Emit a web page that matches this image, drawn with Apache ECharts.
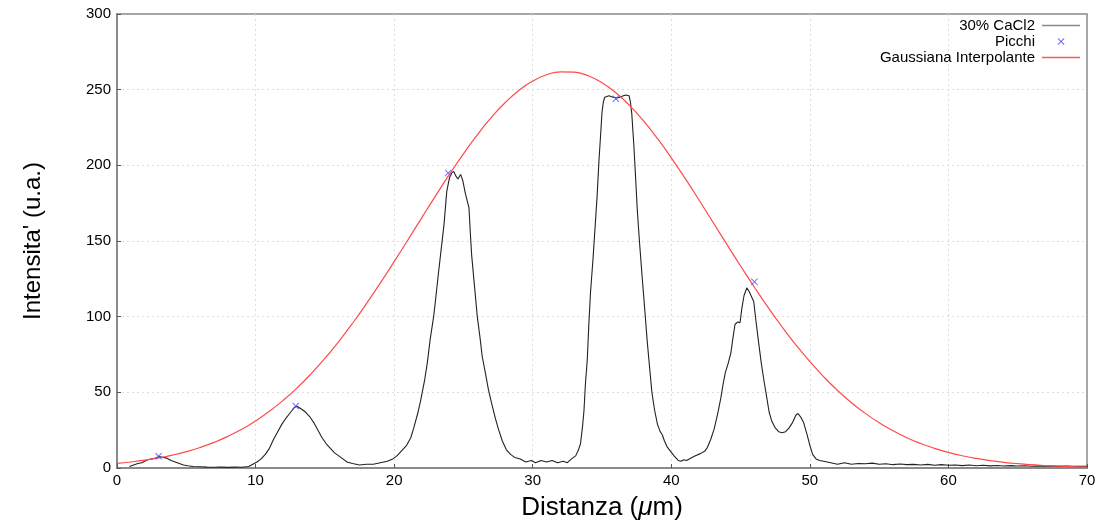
<!DOCTYPE html>
<html>
<head>
<meta charset="utf-8">
<script src="https://cdn.jsdelivr.net/npm/echarts@6/dist/echarts.min.js"></script>
<style>html,body{margin:0;padding:0;background:#fff;}#c{width:1099px;height:526px;}</style>
</head>
<body>
<div id="c"></div>
<script>
// Measured profile: x (µm) and intensity
var profileX = [0.9,1.2,1.5,1.8,2.0,2.2,2.5,2.8,3.0,3.3,3.6,3.9,4.2,4.5,4.8,5.1,5.5,6.0,6.5,7.0,7.5,8.0,8.5,9.0,9.5,9.8,10.1,10.4,10.7,11.0,11.3,11.6,11.9,12.2,12.5,12.8,13.0,13.3,13.6,13.9,14.2,14.5,14.8,15.1,15.4,15.7,16.0,16.3,16.6,17.0,17.5,18.0,18.5,19.0,19.5,19.9,20.2,20.5,20.9,21.2,21.4,21.7,21.9,22.2,22.4,22.6,22.85,23.0,23.2,23.4,23.6,23.8,24.0,24.15,24.3,24.45,24.6,24.8,24.95,25.15,25.4,25.5,25.6,25.8,26.0,26.2,26.35,26.6,26.8,27.0,27.3,27.55,27.8,28.1,28.4,28.7,29.1,29.5,29.9,30.2,30.6,31.0,31.4,31.8,32.2,32.5,32.8,33.1,33.3,33.45,33.6,33.7,33.8,33.94,34.05,34.17,34.35,34.5,34.65,34.78,34.9,35.0,35.1,35.2,35.5,35.8,36.1,36.4,36.7,36.95,37.05,37.15,37.3,37.4,37.55,37.7,37.9,38.1,38.27,38.45,38.6,38.8,39.0,39.2,39.35,39.5,39.7,39.95,40.2,40.5,40.7,40.9,41.1,41.4,41.7,42.1,42.4,42.6,42.85,43.1,43.35,43.57,43.75,43.9,44.1,44.3,44.45,44.6,44.8,44.96,45.1,45.25,45.45,45.6,45.75,45.95,46.1,46.3,46.5,46.7,46.9,47.06,47.25,47.5,47.75,48.0,48.25,48.5,48.75,49.0,49.15,49.35,49.55,49.8,50.0,50.2,50.45,50.7,51.0,51.5,52.0,52.5,53.0,53.5,54.0,54.5,55.0,55.5,56.0,56.5,57.0,57.5,58.0,58.5,59.0,59.5,60.0,60.5,61.0,61.5,62.0,62.5,63.0,63.5,64.0,64.5,65.0,65.5,66.0,66.5,67.0,67.5,68.0,68.5,69.0,69.5,70.0];
var profileY = [1,2,3,3.5,4.5,5.5,6,6.5,7.5,7,6.5,5,4,3,2,1.5,1,0.8,0.6,0.5,0.6,0.4,0.6,0.5,1,2.5,4,6,9,13,19,24,29,33,36.5,40,40.8,39,37,34,30,25,20,16,13,10,8,6,4,3,2,2.5,2.5,3.5,4.5,6,8,11,15,20,26,36,44,58,70,85,100,112,129,145,161,183,192,195,196,193,191,194,190,181,172,155,140,120,100,86,74,62,52,44,33,25,18,12,9,7,6,4,5,3.5,5,4,5,3.5,4.5,3.5,6,8,12,16,28,38,55,72,95,116,138,159,180,203,220,235,242,245,246,245,244.5,245.5,246.5,246,242,234,213,196,170,150,126,103,83,65,50,38,29,24,22,18,14,11,8,5,4.5,5.5,5,6.5,8,9.5,11,13.5,19,26,36,46,56,63,69,76,86,95,96.5,96,106,114,119,117,114,110,98,83,69,57,46,37,31,26.5,24,23.3,24,26.5,30,35,36,33.5,30,22,15,9,6,5,4.5,3.5,2.5,3.5,2.5,3,2.8,3.2,2.5,2.8,2.2,2.6,2.2,2.4,2,2.4,1.8,2.2,1.8,2,1.6,2,1.5,1.8,1.4,1.7,1.3,1.6,1.3,1.5,1.2,1.4,1.2,1.3,1.1,1.3,1.2,1.1,1.2];
// Detected peaks
var peakX = [3.0, 12.9, 23.9, 36.0, 46.0];
var peakY = [7.8, 41, 195, 244, 123];
var gaussX = [0,1,2,3,4,5,6,7,8,9,10,11,12,13,14,15,16,17,18,19,20,21,22,23,24,25,26,27,28,29,30,31,32,33,34,35,36,37,38,39,40,41,42,43,44,45,46,47,48,49,50,51,52,53,54,55,56,57,58,59,60,61,62,63,64,65,66,67,68,69,70];
var gaussY = [3.03,3.98,5.17,6.66,8.52,10.79,13.56,16.9,20.89,25.59,31.08,37.44,44.72,52.96,62.18,72.4,83.58,95.66,108.58,122.18,136.34,150.84,165.48,180.0,194.14,207.62,220.16,231.47,241.32,249.45,255.66,259.83,261.82,261.6,259.17,254.58,247.96,239.48,229.32,217.75,204.98,191.35,177.12,162.56,147.93,133.48,119.42,105.93,93.18,81.26,70.27,60.26,51.23,43.2,36.1,29.92,24.6,20.04,16.19,12.97,10.3,8.11,6.34,4.91,3.77,2.87,2.17,1.62,1.2,0.88,0.65];
var seriesNames = ['30% CaCl2', 'Picchi', 'Gaussiana Interpolante'];
var yTitle = "Intensita' (u.a.)";

function zip(a, b) { return a.map(function (v, i) { return [v, b[i]]; }); }
var xIcon = 'path://M0,1L1,0L5,4L9,0L10,1L6,5L10,9L9,10L5,6L1,10L0,9L4,5Z';
var lineIcon = 'path://M0,0L38,0L38,1.5L0,1.5Z';
var font = "'Liberation Sans', Arial, Helvetica, sans-serif";

var chart = echarts.init(document.getElementById('c'), null, { renderer: 'canvas' });
chart.setOption({
  animation: false,
  backgroundColor: '#fff',
  textStyle: { fontFamily: font },
  grid: { left: 117, right: 12, top: 14, bottom: 52, show: true, borderColor: '#8a8a8a', borderWidth: 1.5, backgroundColor: 'transparent' },
  legend: {
    orient: 'vertical', right: 14, top: 13, align: 'right', itemGap: 1,
    itemWidth: 38, itemHeight: 7,
    textStyle: { fontSize: 15, color: '#000', fontFamily: font, padding: [0, 2, 0, 0] },
    data: [
      { name: seriesNames[0], icon: lineIcon, itemStyle: { color: '#8a8a8a', borderWidth: 0 }, lineStyle: { color: '#8a8a8a', width: 0 } },
      { name: seriesNames[1], icon: xIcon },
      { name: seriesNames[2], icon: lineIcon, itemStyle: { color: '#ff5a5a', borderWidth: 0 }, lineStyle: { color: '#ff5a5a', width: 0 } }
    ]
  },
  xAxis: {
    type: 'value', min: 0, max: 70, interval: 10,
    name: '{n|Distanza (}{i|μ}{n|m)}', nameLocation: 'middle', nameGap: 27,
    nameTextStyle: {
      fontSize: 26, color: '#000', fontFamily: font,
      rich: {
        n: { fontSize: 26, color: '#000', fontFamily: font },
        i: { fontSize: 26, color: '#000', fontFamily: font, fontStyle: 'italic' }
      }
    },
    axisLine: { show: true, lineStyle: { color: '#8a8a8a', width: 2 } },
    axisTick: { show: true, inside: true, length: 4, lineStyle: { color: '#555' } },
    axisLabel: { fontSize: 15, color: '#000', margin: 5, fontFamily: font },
    splitLine: { show: true, showMinLine: false, showMaxLine: false, lineStyle: { color: '#dcdcdc', type: [2, 3], width: 1 } }
  },
  yAxis: {
    type: 'value', min: 0, max: 300, interval: 50,
    name: yTitle, nameLocation: 'middle', nameGap: 72, nameRotate: 90,
    nameTextStyle: { fontSize: 24, color: '#000', fontFamily: font },
    axisLine: { show: true, lineStyle: { color: '#8a8a8a', width: 2 } },
    axisTick: { show: true, inside: true, length: 4, lineStyle: { color: '#555' } },
    axisLabel: { fontSize: 15, color: '#000', margin: 6, fontFamily: font },
    splitLine: { show: true, showMinLine: false, showMaxLine: false, lineStyle: { color: '#dcdcdc', type: [2, 3], width: 1 } }
  },
  series: [
    {
      name: seriesNames[0], type: 'line', data: zip(profileX, profileY),
      showSymbol: false, symbol: 'none',
      lineStyle: { color: '#222', width: 1.1 }, itemStyle: { color: '#8a8a8a' }, z: 3
    },
    {
      name: seriesNames[1], type: 'scatter', data: zip(peakX, peakY),
      symbol: xIcon, symbolSize: 7,
      itemStyle: { color: '#4848ff' }, z: 5
    },
    {
      name: seriesNames[2], type: 'line', data: zip(gaussX, gaussY),
      showSymbol: false, symbol: 'none', smooth: true,
      lineStyle: { color: '#ff4a4a', width: 1.2 }, itemStyle: { color: '#ff5a5a' }, z: 4
    }
  ]
});
</script>
</body>
</html>
